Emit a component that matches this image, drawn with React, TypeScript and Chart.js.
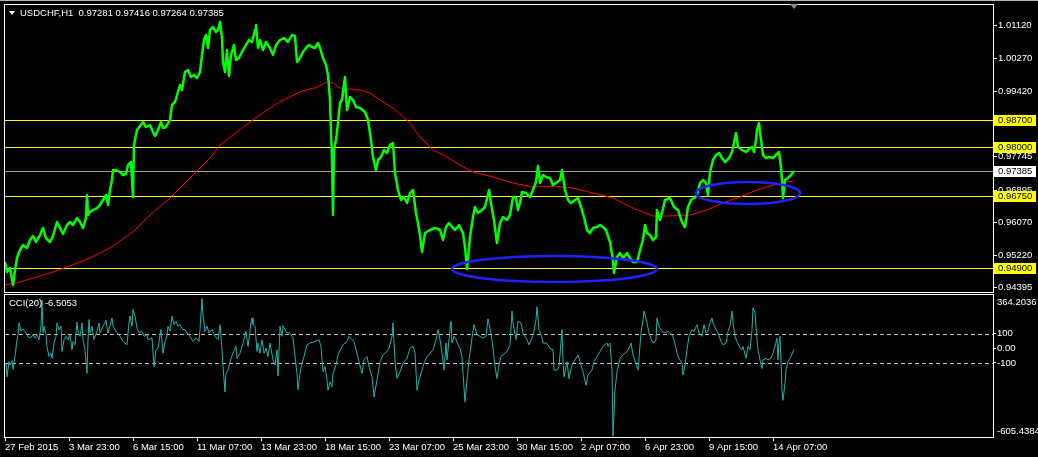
import React, { useEffect, useRef } from "react";
import { Chart, registerables } from "chart.js";

Chart.register(...registerables);

// ---------- DATA ----------
const SYMBOL = "USDCHF,H1";
const lastOHLC = [0.97281, 0.97416, 0.97264, 0.97385];

// hourly bar index (0 = 27 Feb 2015 07:00) and price
const priceBars = [0,2,5,8,10,12,15,18,22,25,28,31,35,38,41,45,48,52,55,58,62,65,68,72,75,78,81,82,83,85,88,92,95,98,101,103,105,107,108,111,115,118,121,123,126,128,129,132,135,138,141,145,148,150,153,156,158,161,165,167,170,173,175,177,180,183,186,189,192,195,197,199,201,203,205,208,211,213,215,217,218,220,222,224,226,229,231,234,237,241,244,247,250,251,253,255,258,261,265,268,271,275,279,283,287,290,292,295,298,301,304,307,310,313,315,318,321,323,325,326,327,328,329,331,333,335,337,340,342,345,348,351,355,360,363,366,368,371,373,376,379,382,385,388,390,393,396,399,402,405,408,411,413,415,417,420,425,430,435,438,441,444,447,450,454,458,460,462,465,468,470,473,477,480,484,486,489,492,495,498,502,505,508,511,513,515,517,521,525,528,531,533,535,538,541,545,548,551,555,557,560,563,566,570,573,576,579,582,585,588,592,595,598,601,605,608,609,612,615,618,622,625,628,632,635,638,640,642,645,648,651,652,655,657,660,665,669,673,677,680,683,686,689,692,695,698,701,703,705,708,711,714,717,720,724,727,729,731,733,737,741,745,747,749,751,752,754,756,758,761,764,768,771,774,776,777,778,780,783,786,789];
const priceValues = [0.95053,0.94797,0.94899,0.94464,0.94848,0.95155,0.95360,0.95488,0.95411,0.95616,0.95718,0.95565,0.95744,0.95923,0.95667,0.95565,0.95718,0.96077,0.95923,0.95770,0.96000,0.96077,0.96000,0.96179,0.96077,0.95923,0.96179,0.96768,0.96256,0.96333,0.96384,0.96435,0.96512,0.96640,0.96768,0.96512,0.96896,0.97152,0.97408,0.97408,0.97357,0.97280,0.97306,0.97536,0.97613,0.96717,0.98048,0.98432,0.98534,0.98637,0.98509,0.98560,0.98381,0.98278,0.98432,0.98637,0.98483,0.98509,0.98688,0.99072,0.99149,0.99405,0.99584,0.99456,0.99917,0.99968,0.99789,0.99840,0.99763,0.99917,1.00352,1.00736,1.00864,1.00531,1.00992,1.01069,1.00941,1.00992,1.01197,1.00787,1.00173,0.99917,1.00480,0.99814,1.00352,1.00608,1.00224,1.00275,1.00429,1.00608,1.00736,1.00685,1.00992,1.01120,1.00531,1.00736,1.00480,1.00685,1.00531,1.00352,1.00608,1.00736,1.00787,1.00685,1.00864,1.00838,1.00173,1.00275,1.00429,1.00531,1.00608,1.00557,1.00531,1.00659,1.00531,1.00275,1.00096,0.99840,0.99200,0.98432,0.97664,0.96256,0.97920,0.98176,0.98611,0.99123,0.99200,0.99789,0.98944,0.99277,0.99200,0.99021,0.98995,0.98893,0.98688,0.98176,0.97741,0.97408,0.97664,0.97741,0.97920,0.97843,0.98048,0.98099,0.97331,0.96896,0.96640,0.96717,0.96563,0.96819,0.96896,0.96307,0.96051,0.95744,0.95309,0.95795,0.95872,0.95923,0.95872,0.95616,0.95949,0.96051,0.95949,0.95872,0.96000,0.95795,0.95437,0.94874,0.95693,0.96205,0.96461,0.96307,0.96384,0.96461,0.96896,0.96563,0.96128,0.95539,0.96051,0.96205,0.96128,0.96256,0.96717,0.96691,0.96384,0.96563,0.96845,0.96819,0.96717,0.96896,0.97101,0.97510,0.97075,0.97280,0.97229,0.97203,0.97024,0.97075,0.97152,0.97408,0.96896,0.96640,0.96563,0.96640,0.96691,0.96461,0.96205,0.95872,0.95795,0.95923,0.95949,0.96000,0.95949,0.95872,0.95565,0.95104,0.94771,0.95181,0.95283,0.95155,0.95283,0.95155,0.95053,0.95053,0.95360,0.95616,0.96000,0.95795,0.95744,0.95616,0.95693,0.96384,0.96128,0.96307,0.96640,0.96691,0.96461,0.96384,0.96077,0.95949,0.96461,0.96640,0.96691,0.96768,0.97075,0.97152,0.97075,0.96768,0.97357,0.97664,0.97792,0.97843,0.97715,0.97613,0.97715,0.97869,0.98099,0.98355,0.97997,0.97920,0.97869,0.97971,0.97997,0.97869,0.98176,0.98432,0.98611,0.98176,0.97792,0.97715,0.97741,0.97715,0.97792,0.97869,0.97485,0.97152,0.96691,0.97152,0.97203,0.97280,0.97385];

// moving average (red)
const maBars = [0,15,45,62,85,105,128,145,165,185,205,215,228,245,262,278,295,312,322,328,335,355,365,375,388,405,415,428,442,455,468,488,508,528,548,568,588,608,628,648,662,685,702,718,735,752,768,782,788];
const maValues = [0.94464,0.94541,0.94771,0.94925,0.95155,0.95411,0.95821,0.96256,0.96691,0.97203,0.97715,0.98048,0.98304,0.98637,0.98944,0.99200,0.99405,0.99533,0.99661,0.99635,0.99507,0.99456,0.99379,0.99200,0.98995,0.98611,0.98253,0.97920,0.97741,0.97536,0.97357,0.97229,0.97075,0.96973,0.96998,0.96947,0.96819,0.96691,0.96435,0.96230,0.96230,0.96256,0.96384,0.96563,0.96717,0.96896,0.97024,0.97101,0.97126];

// CCI(20)
const cciPeriod = 20;
const cciLast = -6.5053;
const cciBars = [1,2,4,5,7,8,10,12,13,14,16,18,20,22,24,27,28,30,32,34,36,37,38,39,41,42,44,46,47,49,51,52,54,56,57,59,61,63,65,67,68,70,72,73,75,77,78,80,82,83,84,85,87,89,92,94,95,98,101,103,107,108,112,115,118,122,124,125,127,128,130,132,134,137,139,142,143,147,149,151,153,156,158,160,162,163,165,167,169,171,173,175,178,180,182,185,188,191,194,195,197,198,200,202,204,207,210,213,215,217,218,220,221,223,226,228,231,232,235,238,241,243,246,247,248,250,252,253,255,257,259,261,263,265,268,270,272,273,275,277,278,280,282,285,288,290,292,293,295,297,299,302,305,310,314,316,318,320,322,323,325,327,328,331,333,336,338,342,344,347,349,352,354,357,359,362,364,367,369,372,375,378,382,384,387,388,390,392,395,398,402,405,408,410,412,414,417,419,422,425,428,431,433,435,437,439,441,442,444,446,447,449,451,453,455,457,458,460,462,464,467,469,472,475,478,481,483,486,488,490,492,494,496,498,502,505,507,508,511,513,516,518,522,524,527,529,531,532,534,537,538,541,543,545,548,549,552,554,557,558,559,562,564,567,570,573,575,578,581,583,587,589,592,595,598,602,603,605,607,608,610,612,615,618,622,624,626,628,631,633,636,638,639,642,644,647,649,651,652,654,657,660,663,667,669,672,674,677,678,680,682,684,687,689,692,694,697,699,701,703,705,707,708,711,713,716,718,721,723,725,727,728,730,732,735,737,738,741,743,745,747,748,750,752,753,755,757,758,761,763,766,768,770,772,773,774,775,776,777,778,780,781,783,786,789];
const cciValues = [-102,-194,-91,-114,-84,-144,-56,59,93,174,116,132,116,93,70,82,93,70,93,59,151,330,105,151,93,13,-56,-33,-68,36,82,174,128,151,-22,59,82,59,93,-10,47,24,178,116,82,174,59,-10,-171,59,197,105,151,59,116,174,105,151,192,105,208,151,105,82,47,24,174,220,151,266,220,139,105,116,82,93,59,70,-125,-10,1,128,-33,47,82,151,116,220,162,185,151,162,128,128,105,82,47,70,47,128,340,220,116,151,105,128,82,59,162,-10,-125,-298,-171,-148,-68,-33,13,-68,-33,36,116,13,174,208,162,151,-22,36,-33,59,-33,1,-56,36,-79,-114,-10,-190,151,82,155,128,105,105,70,-56,-171,-282,-171,-102,-56,24,36,47,59,13,-160,-125,-217,-286,-229,-263,-171,-114,-45,1,24,47,82,59,47,-33,-91,-171,-79,-56,-125,-194,-332,-217,-91,-45,-22,1,82,174,-91,-206,-160,-102,-68,1,13,-33,-286,-217,-148,-102,-56,-33,-10,59,128,59,-33,-148,36,-79,59,185,36,82,59,24,1,-56,-171,-367,-217,-79,70,162,93,82,70,82,201,105,1,-125,-206,-114,-56,-45,-22,24,254,174,59,185,174,105,59,24,70,116,197,284,128,70,36,36,24,1,-10,-148,-148,-125,128,-79,-194,-91,-206,-114,-79,-45,-91,-160,-252,-183,-148,-91,-56,-22,13,36,13,36,-148,-600,-286,-160,-68,-45,-22,1,36,-45,-102,-148,105,197,254,174,105,47,36,59,208,151,116,105,116,93,59,-33,-68,-102,-183,-114,-10,82,128,116,162,105,82,162,105,116,174,208,174,128,105,47,24,36,116,151,254,174,82,47,1,-10,13,-68,13,-10,128,277,243,59,-10,-79,-137,-79,-68,-79,-68,-33,13,70,-79,36,82,-91,-286,-355,-240,-148,-91,-56,-6.5053];
const cciMax = 364.2036;
const cciMin = -605.4384;
const cciTicks = [100, 0, -100];
const cciLevels = [100, -100];

// price scale
const priceMin = 0.94285;
const priceMax = 1.01632;
const priceTicks = [1.0112, 1.0027, 0.9942, 0.98595, 0.97745, 0.96895, 0.9607, 0.9522, 0.94395];
const yellowLevels = [0.987, 0.98, 0.9675, 0.949];
const currentPrice = 0.97385;

// time axis
const visibleBars = 988;
const timeTickBars = [0, 64, 128, 192, 256, 320, 384, 448, 512, 576, 640, 704, 768];
const timeTickLabels = ["27 Feb 2015", "3 Mar 23:00", "6 Mar 15:00", "11 Mar 07:00", "13 Mar 23:00", "18 Mar 15:00", "23 Mar 07:00", "25 Mar 23:00", "30 Mar 15:00", "2 Apr 07:00", "6 Apr 23:00", "9 Apr 15:00", "14 Apr 07:00"];

// highlighted zones (ellipses)
const zoneBarFrom = [447, 691];
const zoneBarTo = [652, 795];
const zoneHigh = [0.95206, 0.97101];
const zoneLow = [0.94541, 0.96538];

// ---------- STYLE ----------
const FONT_FAMILY = "'Liberation Sans', Arial, sans-serif";
const FONT_SIZE = 9.5;
const FONT = `${FONT_SIZE}px ${FONT_FAMILY}`;
const W = 1038;
const H_TOP = 294;
const H_BOT = 163;
const AXIS_W = 45;

const fixY = (s: any) => {
  s.width = AXIS_W;
  s.paddingTop = 0;
  s.paddingBottom = 0;
};

const pricePlugin = {
  id: "pricePanel",
  beforeDatasetsDraw(chart: any) {
    const { ctx, chartArea: a, scales } = chart;
    const y = scales.y;
    ctx.save();
    ctx.lineWidth = 1;
    ctx.strokeStyle = "#ffff00";
    yellowLevels.forEach((v) => {
      const py = Math.round(y.getPixelForValue(v)) + 0.5;
      ctx.beginPath();
      ctx.moveTo(a.left, py);
      ctx.lineTo(a.right, py);
      ctx.stroke();
    });
    ctx.strokeStyle = "#9a9a9a";
    const cp = Math.round(y.getPixelForValue(currentPrice)) + 0.5;
    ctx.beginPath();
    ctx.moveTo(a.left, cp);
    ctx.lineTo(a.right, cp);
    ctx.stroke();
    ctx.restore();
  },
  afterDatasetsDraw(chart: any) {
    const { ctx, scales } = chart;
    const x = scales.x;
    const y = scales.y;
    ctx.save();
    ctx.strokeStyle = "#1f22ff";
    ctx.lineWidth = 2.5;
    zoneBarFrom.forEach((b, i) => {
      const x0 = x.getPixelForValue(b);
      const x1 = x.getPixelForValue(zoneBarTo[i]);
      const y0 = y.getPixelForValue(zoneHigh[i]);
      const y1 = y.getPixelForValue(zoneLow[i]);
      ctx.beginPath();
      ctx.ellipse((x0 + x1) / 2, (y0 + y1) / 2, (x1 - x0) / 2, (y1 - y0) / 2, 0, 0, Math.PI * 2);
      ctx.stroke();
    });
    ctx.restore();
  },
  afterDraw(chart: any) {
    const { ctx, chartArea: a, scales } = chart;
    const y = scales.y;
    const x = scales.x;
    ctx.save();
    // frame
    ctx.strokeStyle = "#ffffff";
    ctx.lineWidth = 1;
    ctx.strokeRect(a.left - 0.5, a.top - 0.5, a.right - a.left + 1, a.bottom - a.top + 1);
    // tags on price axis
    ctx.font = FONT;
    ctx.textBaseline = "middle";
    ctx.textAlign = "left";
    const tag = (v: number, bg: string) => {
      const py = Math.round(y.getPixelForValue(v));
      ctx.fillStyle = bg;
      ctx.fillRect(a.right + 1, py - 5, W - a.right - 3, 11);
      ctx.fillStyle = "#000000";
      ctx.fillText(v.toFixed(5), a.right + 5, py + 0.5);
    };
    yellowLevels.forEach((v) => tag(v, "#ffff00"));
    tag(currentPrice, "#ffffff");
    // header
    ctx.fillStyle = "#ffffff";
    ctx.beginPath();
    ctx.moveTo(a.left + 4, a.top + 6);
    ctx.lineTo(a.left + 10, a.top + 6);
    ctx.lineTo(a.left + 7, a.top + 10);
    ctx.closePath();
    ctx.fill();
    ctx.fillText(`${SYMBOL}  ${lastOHLC.map((v) => v.toFixed(5)).join(" ")}`, a.left + 15, a.top + 8);
    // chart shift marker
    const sx = Math.round(x.getPixelForValue(priceBars[priceBars.length - 1]));
    ctx.fillStyle = "#8a8a8a";
    ctx.beginPath();
    ctx.moveTo(sx - 4, a.top - 1);
    ctx.lineTo(sx + 4, a.top - 1);
    ctx.lineTo(sx, a.top + 4);
    ctx.closePath();
    ctx.fill();
    ctx.restore();
  },
};

const cciPlugin = {
  id: "cciPanel",
  beforeDatasetsDraw(chart: any) {
    const { ctx, chartArea: a, scales } = chart;
    const y = scales.y;
    ctx.save();
    ctx.strokeStyle = "#c0c0c0";
    ctx.lineWidth = 1;
    ctx.setLineDash([4, 3]);
    cciLevels.forEach((v) => {
      const py = Math.round(y.getPixelForValue(v)) + 0.5;
      ctx.beginPath();
      ctx.moveTo(a.left, py);
      ctx.lineTo(a.right, py);
      ctx.stroke();
    });
    ctx.restore();
  },
  afterDraw(chart: any) {
    const { ctx, chartArea: a, scales } = chart;
    const y = scales.y;
    ctx.save();
    ctx.strokeStyle = "#ffffff";
    ctx.lineWidth = 1;
    ctx.strokeRect(a.left - 0.5, a.top - 0.5, a.right - a.left + 1, a.bottom - a.top + 1);
    ctx.font = FONT;
    ctx.fillStyle = "#ffffff";
    ctx.textBaseline = "middle";
    ctx.textAlign = "left";
    ctx.fillText(`CCI(${cciPeriod}) ${cciLast.toFixed(4)}`, a.left + 4, a.top + 8.5);
    ctx.fillText(y.max.toFixed(4), a.right + 4, y.getPixelForValue(y.max) + 7);
    ctx.fillText(y.min.toFixed(4), a.right + 4, y.getPixelForValue(y.min) - 5.5);
    ctx.restore();
  },
};

export default function App() {
  const topRef = useRef<HTMLCanvasElement>(null);
  const botRef = useRef<HTMLCanvasElement>(null);

  useEffect(() => {
    document.body.style.margin = "0";
    document.body.style.background = "#000";
    const font = { family: FONT_FAMILY, size: FONT_SIZE };

    const top = new Chart(topRef.current as HTMLCanvasElement, {
      type: "line",
      data: {
        datasets: [
          {
            label: "MA",
            data: maBars.map((b, i) => ({ x: b, y: maValues[i] })),
            borderColor: "#ff0000",
            borderWidth: 1,
            pointRadius: 0,
            tension: 0,
            order: 2,
          },
          {
            label: SYMBOL,
            data: priceBars.map((b, i) => ({ x: b, y: priceValues[i] })),
            borderColor: "#00ff00",
            borderWidth: 2.5,
            borderJoinStyle: "round",
            pointRadius: 0,
            tension: 0,
            order: 1,
          },
        ],
      },
      options: {
        responsive: false,
        animation: false,
        events: [],
        layout: { padding: { left: 5, top: 5, right: 0, bottom: 2 } },
        plugins: { legend: { display: false }, tooltip: { enabled: false } },
        scales: {
          x: { type: "linear", min: 0, max: visibleBars, display: false },
          y: {
            type: "linear",
            position: "right",
            min: priceMin,
            max: priceMax,
            afterFit: fixY,
            afterBuildTicks: (s: any) => {
              s.ticks = priceTicks.map((v) => ({ value: v }));
            },
            grid: { drawOnChartArea: false, drawTicks: true, tickLength: 4, color: "#ffffff", tickColor: "#ffffff" },
            border: { display: false },
            ticks: {
              color: "#ffffff",
              font,
              padding: 1,
              callback: (v: any) => Number(v).toFixed(5),
            },
          },
        },
      } as any,
      plugins: [pricePlugin],
    });

    const bot = new Chart(botRef.current as HTMLCanvasElement, {
      type: "line",
      data: {
        datasets: [
          {
            label: "CCI",
            data: cciBars.map((b, i) => ({ x: b, y: cciValues[i] })),
            borderColor: "#20b2aa",
            borderWidth: 1,
            pointRadius: 0,
            tension: 0,
          },
        ],
      },
      options: {
        responsive: false,
        animation: false,
        events: [],
        layout: { padding: { left: 5, top: 1, right: 0, bottom: 0 } },
        plugins: { legend: { display: false }, tooltip: { enabled: false } },
        scales: {
          x: {
            type: "linear",
            min: 0,
            max: visibleBars,
            afterFit: (s: any) => {
              s.height = 20;
              s.paddingLeft = 0;
              s.paddingRight = 0;
            },
            afterBuildTicks: (s: any) => {
              s.ticks = timeTickBars.map((v) => ({ value: v }));
            },
            grid: { drawOnChartArea: false, drawTicks: true, tickLength: 4, color: "#ffffff", tickColor: "#ffffff" },
            border: { display: false },
            ticks: {
              color: "#ffffff",
              font,
              padding: 1,
              align: "start",
              maxRotation: 0,
              autoSkip: false,
              callback: (_v: any, i: number) => timeTickLabels[i],
            },
          },
          y: {
            type: "linear",
            position: "right",
            min: cciMin,
            max: cciMax,
            afterFit: fixY,
            afterBuildTicks: (s: any) => {
              s.ticks = cciTicks.map((v) => ({ value: v }));
            },
            grid: { drawOnChartArea: false, drawTicks: true, tickLength: 3, color: "#ffffff", tickColor: "#ffffff" },
            border: { display: false },
            ticks: {
              color: "#ffffff",
              font,
              padding: 1,
              callback: (v: any) => (Number(v) === 0 ? "0.00" : String(v)),
            },
          },
        },
      } as any,
      plugins: [cciPlugin],
    });

    return () => {
      top.destroy();
      bot.destroy();
    };
  }, []);

  return (
    <div style={{ position: "relative", width: W, height: H_TOP + H_BOT, background: "#000", overflow: "hidden" }}>
      <canvas ref={topRef} width={W} height={H_TOP} style={{ position: "absolute", left: 0, top: 0, width: W, height: H_TOP }} />
      <canvas ref={botRef} width={W} height={H_BOT} style={{ position: "absolute", left: 0, top: H_TOP, width: W, height: H_BOT }} />
      <div style={{ position: "absolute", left: 0, top: 0, width: W, height: 1, background: "#b4b4b4" }} />
    </div>
  );
}
